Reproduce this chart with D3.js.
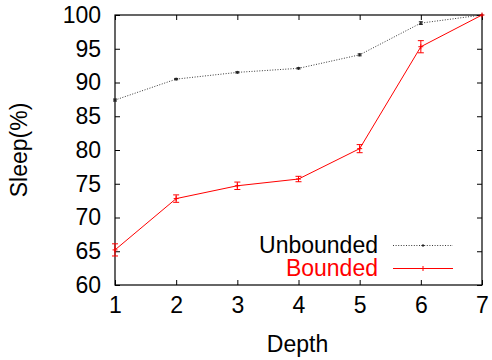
<!DOCTYPE html>
<html>
<head>
<meta charset="utf-8">
<script src="https://cdn.jsdelivr.net/npm/d3@7"></script>
<style>
  html, body { margin: 0; padding: 0; background: #fff; }
  svg { display: block; font-family: "Liberation Sans", Arial, sans-serif; }
</style>
</head>
<body>
<svg id="chart" width="492" height="360"></svg>
<script>
// Sleep percentage by depth, with standard-error bars
const depths = [1, 2, 3, 4, 5, 6, 7];
const unboundedMean = [87.4, 90.5, 91.5, 92.1, 94.1, 98.8, 100];
const unboundedErr  = [0.15, 0.1, 0.1, 0.1, 0.15, 0.2, 0];
const boundedMean   = [65.2, 72.8, 74.7, 75.7, 80.2, 95.3, 100];
const boundedErr    = [0.9, 0.55, 0.55, 0.4, 0.6, 0.9, 0];
const yTicks = [60, 65, 70, 75, 80, 85, 90, 95, 100];
const xTicks = [1, 2, 3, 4, 5, 6, 7];

const series = [
  { name: "Unbounded", mean: unboundedMean, err: unboundedErr, color: "#222", dash: "1,1.6", width: 0.9, marker: 1.5, cap: 2, text: "#000" },
  { name: "Bounded", mean: boundedMean, err: boundedErr, color: "#ff0000", dash: null, width: 1, marker: 2.5, cap: 3, text: "#ff0000" }
];

const svg = d3.select("#chart");
const L = 115, R = 482, T = 15, B = 285;
const FS = "23px";
const x = d3.scaleLinear().domain([1, 7]).range([L, R]);
const y = d3.scaleLinear().domain([60, 100]).range([B, T]);

// Axes with inward ticks, mirrored on top and right
const tickLen = 5;
const axisBottom = d3.axisBottom(x).tickValues(xTicks).tickSize(-tickLen).tickPadding(12).tickFormat(d3.format("d"));
const axisTop = d3.axisTop(x).tickValues(xTicks).tickSize(-tickLen).tickFormat("");
const axisLeft = d3.axisLeft(y).tickValues(yTicks).tickSize(-tickLen).tickPadding(14).tickFormat(d3.format("d"));
const axisRight = d3.axisRight(y).tickValues(yTicks).tickSize(-tickLen).tickFormat("");

function styleAxis(g) {
  g.select(".domain").remove();
  g.selectAll(".tick line").attr("stroke", "#000").attr("stroke-width", 1);
  g.selectAll(".tick text").attr("fill", "#000").style("font-size", FS).attr("font-family", "Liberation Sans, Arial, sans-serif");
}

svg.append("g").attr("transform", `translate(0,${B})`).call(axisBottom).call(styleAxis);
svg.append("g").attr("transform", `translate(0,${T})`).call(axisTop).call(styleAxis);
svg.append("g").attr("transform", `translate(${L},0)`).call(axisLeft).call(styleAxis);
svg.append("g").attr("transform", `translate(${R},0)`).call(axisRight).call(styleAxis);

svg.append("rect")
  .attr("x", L).attr("y", T).attr("width", R - L).attr("height", B - T)
  .attr("fill", "none").attr("stroke", "#000").attr("stroke-width", 1.2);

// Axis titles
svg.append("text")
  .attr("x", (L + R) / 2 - 1).attr("y", 352)
  .attr("text-anchor", "middle").style("font-size", FS).attr("fill", "#000")
  .text("Depth");
svg.append("text")
  .attr("transform", `translate(27,${(T + B) / 2}) rotate(-90)`)
  .attr("text-anchor", "middle").style("font-size", FS).attr("fill", "#000")
  .text("Sleep(%)");

// Series: line, error bars, point markers
const line = d3.line().x(d => x(d.depth)).y(d => y(d.mean));

series.forEach(s => {
  const pts = depths.map((d, i) => ({ depth: d, mean: s.mean[i], err: s.err[i] }));
  const g = svg.append("g");
  g.append("path")
    .datum(pts)
    .attr("d", line)
    .attr("fill", "none")
    .attr("stroke", s.color)
    .attr("stroke-width", s.width)
    .attr("stroke-dasharray", s.dash);

  const cap = s.cap;
  const eb = g.selectAll(".eb").data(pts.filter(p => p.err > 0)).enter().append("g")
    .attr("stroke", s.color).attr("stroke-width", 1);
  eb.append("line")
    .attr("x1", p => x(p.depth)).attr("x2", p => x(p.depth))
    .attr("y1", p => y(p.mean - p.err)).attr("y2", p => y(p.mean + p.err));
  eb.append("line")
    .attr("x1", p => x(p.depth) - cap).attr("x2", p => x(p.depth) + cap)
    .attr("y1", p => y(p.mean - p.err)).attr("y2", p => y(p.mean - p.err));
  eb.append("line")
    .attr("x1", p => x(p.depth) - cap).attr("x2", p => x(p.depth) + cap)
    .attr("y1", p => y(p.mean + p.err)).attr("y2", p => y(p.mean + p.err));

  const m = s.marker;
  g.selectAll(".pt").data(pts).enter().append("path")
    .attr("d", p => `M${x(p.depth) - m},${y(p.mean)}H${x(p.depth) + m}M${x(p.depth)},${y(p.mean) - m}V${y(p.mean) + m}`)
    .attr("stroke", s.color).attr("stroke-width", 1);
});

// Legend
const legendRows = [
  { s: series[0], ty: 253, ly: 245.5 },
  { s: series[1], ty: 276, ly: 268.5 }
];
legendRows.forEach(r => {
  svg.append("text")
    .attr("x", 378).attr("y", r.ty)
    .attr("text-anchor", "end").style("font-size", FS).attr("fill", r.s.text)
    .text(r.s.name);
  svg.append("line")
    .attr("x1", 393).attr("x2", 453).attr("y1", r.ly).attr("y2", r.ly)
    .attr("stroke", r.s.color).attr("stroke-width", r.s.width)
    .attr("stroke-dasharray", r.s.dash);
  const cx = 423, m = r.s.marker;
  svg.append("path")
    .attr("d", `M${cx - m},${r.ly}H${cx + m}M${cx},${r.ly - m}V${r.ly + m}`)
    .attr("stroke", r.s.color).attr("stroke-width", 1);
});
</script>
</body>
</html>
